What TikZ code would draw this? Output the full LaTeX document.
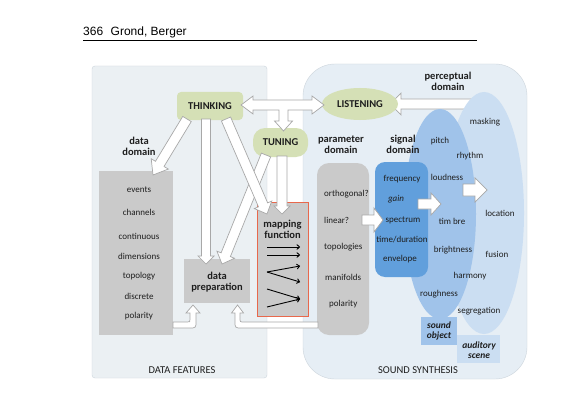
\documentclass[tikz,border=0pt]{standalone}
\usepackage{fontspec}
\setmainfont{Carlito}
\newfontfamily\hdrfont{Liberation Sans}
\usetikzlibrary{calc,arrows.meta,shapes.geometric}
\definecolor{panelA}{HTML}{EBF0F3}
\definecolor{panelB}{HTML}{E6EEF5}
\definecolor{panelLine}{HTML}{CDD5DC}
\definecolor{greenN}{HTML}{D5E0B6}
\definecolor{grayB}{HTML}{CACACA}
\definecolor{mapred}{HTML}{E8684C}
\definecolor{sigblue}{HTML}{619FDC}
\definecolor{objblue}{HTML}{A0C3EA}
\definecolor{scnblue}{HTML}{CBDEF2}
\definecolor{arrgray}{HTML}{A8A8A8}
\definecolor{txt}{HTML}{1E1E1E}
\newcommand\blockarr[5]{%
  \coordinate (ba-c) at ($(#2)!#5!(#1)$);
  \draw[barrow] ($(#1)!#3!90:(#2)$) -- ($(ba-c)!#3!90:(#2)$) -- ($(ba-c)!#4!90:(#2)$) -- (#2)
    -- ($(ba-c)!#4!-90:(#2)$) -- ($(ba-c)!#3!-90:(#2)$) -- ($(#1)!#3!-90:(#2)$) -- cycle;}
\begin{document}
\begin{tikzpicture}[x=1pt,y=-1pt,
  item/.style={font=\fontsize{9}{10}\selectfont, text=txt, inner sep=0pt},
  itemw/.style={item, anchor=west},
  headtxt/.style={font=\bfseries\fontsize{10.5}{12.5}\selectfont, text=txt, align=center, inner sep=0pt},
  captxt/.style={font=\fontsize{10.5}{12}\selectfont, text=txt, inner sep=0pt},
  greennode/.style={fill=greenN, font=\bfseries\fontsize{10.5}{12}\selectfont, text=txt, inner sep=0pt},
  graybox/.style={fill=grayB, inner sep=0pt},
  barrow/.style={draw=arrgray, fill=white, line width=0.7pt, line join=miter},
  minarr/.style={-{To[length=3.5pt,width=5.5pt]}, line width=0.9pt, black},
  bitxt/.style={font=\bfseries\itshape\fontsize{9.5}{11}\selectfont, text=txt, align=center, inner sep=0pt}
]
\useasboundingbox (0,0) rectangle (572,401);
\fill[white] (0,0) rectangle (572,401);

% header
\node[anchor=base west, font=\hdrfont\fontsize{12}{14}\selectfont, inner sep=0pt] (hdr) at (83,36) {366\hspace{7.5pt}Grond, Berger};
\draw[line width=0.8pt] (83,40.5) -- (477,40.5);

% panels
\draw[fill=panelA, draw=panelLine, line width=0.4pt, rounded corners=3pt] (92,66) rectangle (267,378);
\draw[fill=panelB, draw=panelLine, line width=0.4pt, rounded corners=32pt] (303,64) rectangle (527,379);

% LISTENING <- perceptual domain (under the ellipse)
\coordinate (pd-s) at (472,104);
\coordinate (li-e) at (390,104);
\blockarr{pd-s}{li-e}{5pt}{11pt}{11pt}

% perceptual ellipses
\fill[scnblue] (484,213) ellipse [x radius=40, y radius=121];
\fill[objblue] (440,214) ellipse [x radius=36, y radius=105];

% boxes
\node[graybox, minimum width=74pt, minimum height=164pt] (ddbox) at (136,253) {};
\node[graybox, minimum width=66pt, minimum height=44pt] (prep) at (217,281) {};
\node[graybox, draw=mapred, line width=1pt, minimum width=51pt, minimum height=114pt] (map) at (282.5,259) {};
\node[graybox, rounded corners=12pt, minimum width=52pt, minimum height=172pt] (pbox) at (343,249) {};
\node[fill=sigblue, rounded corners=10pt, minimum width=53pt, minimum height=115pt, inner sep=0pt] (sbox) at (401.5,219.5) {};
\node[fill=objblue, minimum width=36pt, minimum height=28pt, inner sep=0pt] (sobj) at (439,331) {};
\node[fill=scnblue, minimum width=43pt, minimum height=28pt, inner sep=0pt] (scene) at (478.5,349) {};

% green nodes
\node[greennode, rounded corners=4pt, minimum width=66pt, minimum height=28pt] (think) at (210,106) {THINKING};
\node[greennode, rounded corners=12pt, minimum width=55pt, minimum height=29pt] (tune) at (280.5,142.5) {TUNING};
\node[greennode, ellipse, minimum width=76pt, minimum height=32pt] (listen) at (360,104) {LISTENING};

% THINKING <-> LISTENING with branch to TUNING
\draw[barrow] (241,105) -- (253,96) -- (253,100) -- (312,100) -- (312,96) -- (324,105) -- (312,114) -- (312,110)
  -- (288,110) -- (288,121) -- (292.5,121) -- (283.5,131) -- (274.5,121) -- (279,121) -- (279,110)
  -- (253,110) -- (253,114) -- cycle;

% arrows from THINKING and TUNING
\coordinate (th-a) at (187,119);  \coordinate (dd-a) at (153,175);
\coordinate (th-b) at (206,119);  \coordinate (pr-b) at (206,264);
\coordinate (th-c) at (226,119);  \coordinate (mp-c) at (267,214);
\coordinate (tu-d) at (282,156);  \coordinate (mp-d) at (282,214);
\coordinate (tu-e) at (266,155);  \coordinate (pr-e) at (222,264);
\blockarr{th-a}{dd-a}{5pt}{10pt}{13pt}
\blockarr{th-b}{pr-b}{4.5pt}{8pt}{8pt}
\blockarr{tu-e}{pr-e}{5pt}{9.5pt}{10pt}
\blockarr{th-c}{mp-c}{5pt}{9.5pt}{10pt}
\blockarr{tu-d}{mp-d}{5pt}{8pt}{8pt}

% elbow arrows into data preparation
\draw[barrow] (173,322) -- (187,322) .. controls (190,322) .. (190,319) -- (190,313) -- (186,313) -- (193,305)
  -- (200,313) -- (196,313) -- (196,321) .. controls (196,328) .. (189,328) -- (173,328) -- cycle;
\draw[barrow] (318,322) -- (244,322) .. controls (240,322) .. (240,318) -- (240,313) -- (243.5,313) -- (237.5,305)
  -- (231.5,313) -- (235,313) -- (235,321) .. controls (235,328) .. (242,328) -- (318,328) -- cycle;

% param -> signal -> object -> scene
\coordinate (pb-a) at (362,220); \coordinate (sb-a) at (383,220);
\coordinate (sb-b) at (418,204); \coordinate (ob-b) at (441,204);
\coordinate (ob-c) at (463,190); \coordinate (sc-c) at (487,190);
\blockarr{pb-a}{sb-a}{5pt}{12pt}{9pt}
\blockarr{sb-b}{ob-b}{5pt}{11pt}{10pt}
\blockarr{ob-c}{sc-c}{6pt}{12pt}{12pt}

% mapping function contents
\node[headtxt] (maptxt) at (282.5,229) {mapping\\[-1.5pt]function};
\draw[minarr] (267,247) -- (300,247);
\draw[minarr] (267,255) -- (300,255);
\draw[minarr] (267,272) -- (300,266);
\draw[minarr] (267,272) -- (300,282);
\draw[minarr] (267,289) -- (300,299);
\draw[minarr] (267,307) -- (300,299);

% data preparation text
\node[headtxt] (preptxt) at (217,282) {data\\[-1.5pt]preparation};

% domain headings
\node[headtxt] (ddh) at (139,146.5) {data\\[-1.5pt]domain};
\node[headtxt] (pdh) at (341,145) {parameter\\[-1.5pt]domain};
\node[headtxt] (sdh) at (403,144.5) {signal\\[-1.5pt]domain};
\node[headtxt] (perch) at (448,81.5) {perceptual\\[-1.5pt]domain};

% data feature items
\node[item] (i1) at (139,190) {events};
\node[item] (i2) at (139,212) {channels};
\node[item] (i3) at (139,236) {continuous};
\node[item] (i4) at (139,256) {dimensions};
\node[item] (i5) at (139,276) {topology};
\node[item] (i6) at (139,296) {discrete};
\node[item] (i7) at (139,316) {polarity};

% parameter items
\node[itemw] (p1) at (324,194) {orthogonal?};
\node[itemw] (p2) at (324,220) {linear?};
\node[itemw] (p3) at (324,247) {topologies};
\node[itemw] (p4) at (325,277) {manifolds};
\node[itemw] (p5) at (329,304) {polarity};

% signal items
\node[item] (s1) at (402,179) {frequency};
\node[item, font=\itshape\fontsize{9}{10}\selectfont] (s2) at (396,199) {gain};
\node[item] (s3) at (403,220) {spectrum};
\node[item] (s4) at (402,240) {time/duration};
\node[item] (s5) at (400,259) {envelope};

% perceptual items
\node[item] (q1) at (485,122) {masking};
\node[item] (q2) at (440,141) {pitch};
\node[item] (q3) at (470,156) {rhythm};
\node[item] (q4) at (447,177) {loudness};
\node[item] (q5) at (500,213) {location};
\node[item] (q6) at (452,221) {tim bre};
\node[item] (q7) at (453,250) {brightness};
\node[item] (q8) at (497,254) {fusion};
\node[item] (q9) at (470,276) {harmony};
\node[item] (q10) at (439,294) {roughness};
\node[item] (q11) at (479,311) {segregation};

\node[bitxt] (sobjtxt) at (439,331) {sound\\[-1.5pt]object};
\node[bitxt] (scenetxt) at (479,350) {auditory\\[-1.5pt]scene};

% panel captions
\node[captxt] (cap1) at (182,370) {DATA FEATURES};
\node[captxt] (cap2) at (418,370) {SOUND SYNTHESIS};
\end{tikzpicture}
\end{document}
